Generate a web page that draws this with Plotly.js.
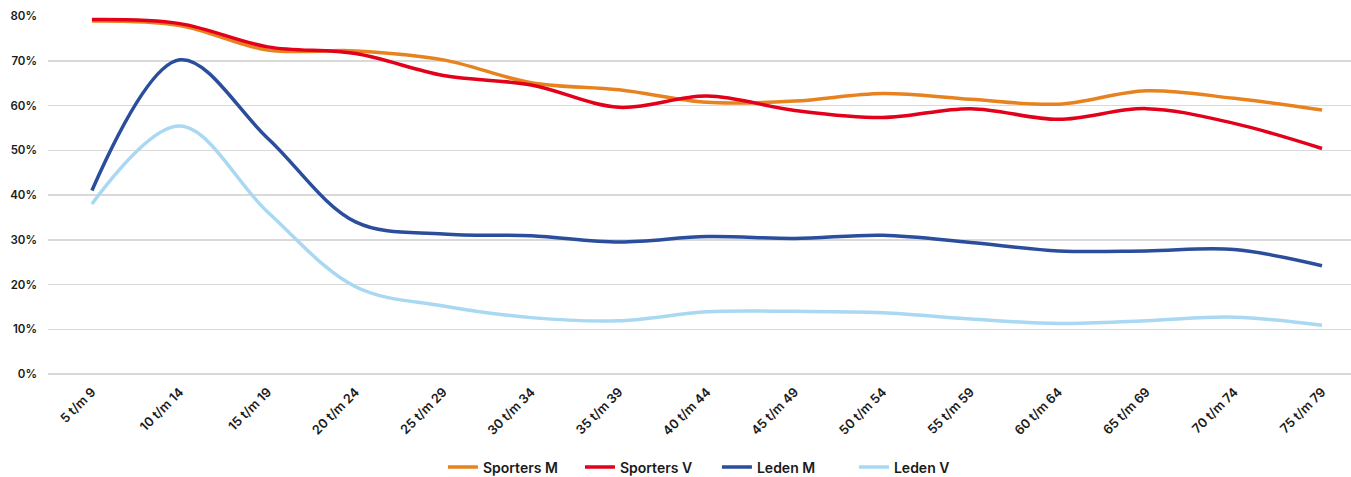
<!DOCTYPE html>
<html>
<head>
<meta charset="utf-8">
<script src="https://cdn.plot.ly/plotly-3.0.1.min.js"></script>
<style>html,body{margin:0;padding:0;background:#fff;}#chart{width:1351px;height:477px;}</style>
</head>
<body>
<div id="chart"></div>
<script>
const categories = ["5 t/m 9","10 t/m 14","15 t/m 19","20 t/m 24","25 t/m 29","30 t/m 34","35 t/m 39","40 t/m 44","45 t/m 49","50 t/m 54","55 t/m 59","60 t/m 64","65 t/m 69","70 t/m 74","75 t/m 79"];
const sportersM = [78.9, 77.9, 72.4, 72.2, 70.2, 65.1, 63.5, 60.7, 61.0, 62.7, 61.4, 60.3, 63.3, 61.6, 59.0];
const sportersV = [79.2, 78.3, 73.1, 71.6, 66.7, 64.6, 59.6, 62.1, 58.9, 57.3, 59.3, 56.9, 59.3, 56.0, 50.4];
const ledenM    = [41.0, 70.2, 52.7, 34.0, 31.3, 30.9, 29.5, 30.7, 30.3, 31.0, 29.4, 27.5, 27.5, 27.8, 24.2];
const ledenV    = [38.0, 55.4, 36.2, 19.5, 15.2, 12.6, 11.9, 13.9, 14.0, 13.7, 12.3, 11.3, 11.9, 12.7, 10.9];
const seriesNames = ["Sporters M", "Sporters V", "Leden M", "Leden V"];
const seriesColors = ["#E8821E", "#E2001A", "#2A4D9C", "#A8D8F2"];

const allSeries = [sportersM, sportersV, ledenM, ledenV];
const traces = allSeries.map((vals, i) => ({
  x: categories,
  y: vals.map(v => v / 100),
  type: "scatter",
  mode: "lines",
  name: seriesNames[i],
  line: {color: seriesColors[i], width: 3.5, shape: "spline", smoothing: 1},
  hoverinfo: "skip"
}));

const font = {family: "Inter, 'Open Sans', sans-serif", size: 12, color: "#1a1a1a", weight: 600};

const layout = {
  width: 1351, height: 477,
  margin: {l: 48, r: 0, t: 16, b: 103},
  paper_bgcolor: "#ffffff",
  plot_bgcolor: "#ffffff",
  font: font,
  showlegend: true,
  legend: {
    orientation: "h", x: 0.3031, xanchor: "left",
    yref: "container", y: 0.02, yanchor: "middle",
    font: {family: font.family, size: 14, color: "#1a1a1a", weight: 600},
    itemwidth: 30, tracegroupgap: 0,
    entrywidth: 92, entrywidthmode: "pixels"
  },
  xaxis: {
    type: "category",
    range: [-0.5, 14.33],
    tickangle: -45,
    showgrid: false, zeroline: false, showline: false,
    ticks: "",
    ticklabelstandoff: 7,
    tickfont: {family: font.family, size: 12.8, color: "#1a1a1a", weight: 600},
    fixedrange: true
  },
  yaxis: {
    range: [0, 0.8],
    dtick: 0.1,
    tickformat: ".0%",
    showgrid: true, gridcolor: "#d9d9d9", gridwidth: 1.5,
    zeroline: true, zerolinecolor: "#d9d9d9", zerolinewidth: 1.5,
    showline: false, ticks: "",
    ticklabelstandoff: 10,
    tickfont: {family: font.family, size: 11.5, color: "#1a1a1a", weight: 600},
    fixedrange: true
  }
};

Plotly.newPlot("chart", traces, layout, {displayModeBar: false, staticPlot: true});
</script>
</body>
</html>
